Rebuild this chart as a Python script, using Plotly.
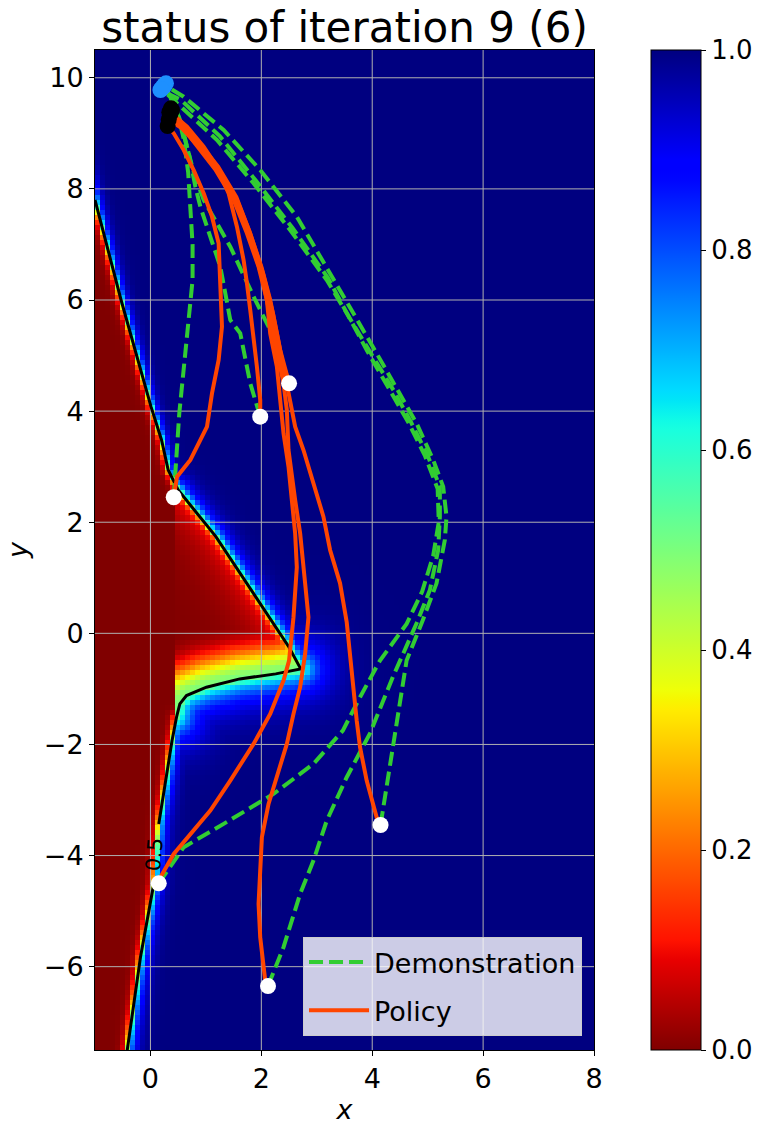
import numpy as np
import plotly.graph_objects as go

# ---- boundary of the 0.5 level, top-left -> bottom-left
bound_x = [-1.5, -1.0, -0.53, 0.01, 0.2, 0.32, 0.41, 0.5, 1.18, 1.9, 2.5, 2.71,
           2.26, 1.61, 1.01, 0.65, 0.53, 0.47, 0.39, 0.15, 0.06, -0.18, -0.42, -0.6]
bound_y = [9.7, 7.8, 6.0, 4.08, 3.48, 2.94, 2.76, 2.58, 1.74, 0.65, -0.25, -0.64,
           -0.73, -0.82, -0.97, -1.12, -1.27, -1.51, -1.93, -3.43, -4.51, -5.83, -7.51, -8.5]

# ---- demonstrations (green dashed)
demo_x = [
    [0.42, 0.46, 0.52, 0.61, 0.7, 0.76, 0.76, 0.73, 0.68, 0.6, 0.48, 0.3, 0.25],
    [1.98, 1.8, 1.62, 1.44, 1.26, 1.05, 0.9, 0.81, 0.7, 0.55, 0.35, 0.22],
    [2.5, 2.28, 2.13, 1.89, 1.44, 0.96, 0.78, 0.62, 0.45, 0.28],
    [4.15, 4.25, 4.44, 4.62, 4.91, 5.16, 5.31, 5.34, 5.28, 5.1, 4.8, 4.5, 4.08, 3.66,
     3.24, 2.64, 1.98, 1.32, 0.6, 0.25],
    [0.15, 0.6, 1.32, 2.22, 2.94, 3.47, 3.78, 4.14, 4.62, 4.9, 5.1, 5.2, 5.18, 4.95,
     4.65, 4.3, 3.9, 3.2, 2.56, 1.9, 1.25, 0.55, 0.18],
    [2.12, 2.4, 2.7, 2.94, 3.18, 3.54, 3.96, 4.37, 4.8, 5.04, 5.19, 5.22, 5.22, 5.0,
     4.7, 4.4, 4.0, 3.18, 2.52, 1.86, 1.2, 0.48, 0.2],
]
demo_y = [
    [2.45, 3.06, 3.96, 4.86, 5.76, 6.36, 7.0, 7.62, 8.3, 8.9, 9.4, 9.78, 9.85],
    [3.9, 4.5, 5.4, 5.64, 6.6, 7.2, 7.68, 8.04, 8.6, 9.2, 9.7, 9.83],
    [4.5, 5.22, 5.52, 6.0, 6.96, 7.8, 8.3, 8.9, 9.4, 9.9],
    [-3.45, -2.8, -1.57, -0.49, 0.23, 0.9, 1.68, 2.1, 2.64, 3.12, 3.78, 4.32, 5.04, 5.76,
     6.48, 7.5, 8.34, 9.06, 9.66, 9.87],
    [-4.5, -3.85, -3.43, -2.89, -2.35, -1.75, -1.15, -0.49, 0.17, 0.75, 1.4, 2.0, 2.6, 3.2,
     3.8, 4.4, 5.1, 6.4, 7.3, 8.15, 8.95, 9.6, 9.78],
    [-6.35, -5.65, -4.69, -4.09, -3.37, -2.59, -1.8, -0.79, 0.18, 0.78, 1.5, 2.1, 2.64, 3.2,
     3.8, 4.35, 5.0, 6.36, 7.26, 8.1, 8.88, 9.54, 9.8],
]

# ---- policy rollouts (orange)
policy_x = [
    [0.42, 0.48, 0.72, 1.02, 1.11, 1.23, 1.29, 1.27, 1.26, 1.23, 1.11, 0.96, 0.78, 0.6, 0.42, 0.31],
    [1.98, 1.98, 1.92, 1.86, 1.8, 1.74, 1.68, 1.56, 1.41, 1.2, 0.96, 0.66, 0.45, 0.36],
    [2.5, 2.4, 2.34, 2.21, 2.03, 1.8, 1.56, 1.2, 0.84, 0.54, 0.39],
    [4.15, 4.08, 3.9, 3.78, 3.72, 3.66, 3.6, 3.54, 3.42, 3.24, 3.12, 2.94, 2.76, 2.61, 2.52,
     2.4, 2.28, 2.16, 2.0, 1.78, 1.55, 1.22, 0.86, 0.56, 0.34],
    [0.15, 0.18, 0.42, 0.72, 1.08, 1.44, 1.86, 2.16, 2.4, 2.5, 2.58, 2.64, 2.61, 2.55, 2.49,
     2.4, 2.34, 2.28, 2.16, 2.1, 1.95, 1.74, 1.5, 1.17, 0.82, 0.55, 0.37],
    [2.12, 2.07, 1.98, 1.95, 1.98, 2.01, 2.13, 2.28, 2.46, 2.58, 2.7, 2.79, 2.85, 2.79, 2.7,
     2.61, 2.55, 2.49, 2.46, 2.4, 2.28, 2.16, 2.02, 1.8, 1.58, 1.24, 0.88, 0.58, 0.33],
]
policy_y = [
    [2.45, 2.82, 3.12, 3.72, 4.32, 4.92, 5.52, 6.0, 6.42, 7.02, 7.5, 7.92, 8.34, 8.7, 9.0, 9.13],
    [3.9, 4.2, 4.8, 5.4, 5.82, 6.3, 6.72, 7.32, 7.92, 8.4, 8.76, 9.12, 9.3, 9.35],
    [4.5, 4.9, 5.1, 5.76, 6.48, 7.2, 7.8, 8.4, 8.83, 9.12, 9.42],
    [-3.45, -3.31, -2.65, -2.05, -1.57, -0.97, -0.36, 0.2, 0.9, 1.5, 2.1, 2.7, 3.3, 3.72, 4.2,
     4.8, 5.4, 6.0, 6.6, 7.25, 7.85, 8.4, 8.85, 9.18, 9.38],
    [-4.5, -4.39, -3.97, -3.61, -3.19, -2.65, -1.99, -1.45, -0.85, -0.49, 0.29, 1.19, 1.8,
     2.4, 3.0, 3.6, 4.2, 4.8, 5.4, 6.0, 6.6, 7.2, 7.8, 8.35, 8.8, 9.15, 9.45],
    [-6.35, -6.25, -5.47, -4.87, -4.27, -3.67, -3.07, -2.59, -1.99, -1.45, -0.97, -0.37, 0.29,
     0.9, 1.8, 2.4, 2.88, 3.3, 4.02, 4.5, 5.1, 5.7, 6.4, 7.1, 7.7, 8.3, 8.75, 9.08, 9.25],
]

x_ticks = [0, 2, 4, 6, 8]
y_ticks = [-6, -4, -2, 0, 2, 4, 6, 8, 10]
cbar_ticks = [0.0, 0.2, 0.4, 0.6, 0.8, 1.0]


# ---- matplotlib jet, reversed
def jet(t):
    r = np.interp(t, [0, 0.35, 0.66, 0.89, 1], [0, 0, 1, 1, 0.5])
    g = np.interp(t, [0, 0.125, 0.375, 0.64, 0.91, 1], [0, 0, 1, 1, 0, 0])
    b = np.interp(t, [0, 0.11, 0.34, 0.65, 1], [0.5, 1, 1, 0, 0])
    return 'rgb(%d,%d,%d)' % (round(r * 255), round(g * 255), round(b * 255))


jet_r = [[v, jet(1 - v)] for v in np.linspace(0, 1, 101)]


# ---- field on a 100 x 200 grid, shaped by the boundary above
def seg_dist(X, Y, x0, y0, x1, y1):
    dx, dy = x1 - x0, y1 - y0
    t = np.clip(((X - x0) * dx + (Y - y0) * dy) / (dx * dx + dy * dy), 0, 1)
    return np.hypot(X - x0 - t * dx, Y - y0 - t * dy)


def group_dist(X, Y, i0, i1):
    return np.min([seg_dist(X, Y, bound_x[i], bound_y[i], bound_x[i + 1], bound_y[i + 1])
                   for i in range(i0, i1)], axis=0)


def inside_poly(X, Y, px, py):
    ins = np.zeros(X.shape, dtype=bool)
    j = len(px) - 1
    for i in range(len(px)):
        cross = ((py[i] > Y) != (py[j] > Y)) & \
                (X < (px[j] - px[i]) * (Y - py[i]) / (py[j] - py[i] + 1e-12) + px[i])
        ins ^= cross
        j = i
    return ins


xc = -1 + 0.09 * (np.arange(100) + 0.5)
yc = -7.5 + 0.09 * (np.arange(200) + 0.5)
X, Y = np.meshgrid(xc, yc)

d_up = group_dist(X, Y, 0, 7)
d_hyp = group_dist(X, Y, 7, 11)
d_low = group_dist(X, Y, 11, 17)
d_ll = group_dist(X, Y, 17, len(bound_x) - 1)
inside = inside_poly(X, Y, bound_x + [-2.0, -2.0], bound_y + [-8.5, 9.7])
right = X >= 0.44

v_out = 1 - 0.5 * np.max([np.exp(-d_up / 0.07), np.exp(-d_hyp / 0.13),
                          np.exp(-d_low / 0.3), np.exp(-d_ll / 0.1)], axis=0)
v_in = np.max([0.5 * np.exp(-d_up / 0.045),
               0.5 * np.exp(-d_ll / 0.05),
               (0.38 * np.exp(-d_hyp / 0.04) + 0.12 * np.exp(-d_hyp / 0.35)) * right,
               0.5 * np.exp(-(d_low / 0.5) ** 2) * right], axis=0)
field = np.where(inside, v_in, v_out)

fig = go.Figure()
fig.add_trace(go.Heatmap(
    x=xc, y=yc, z=field, zmin=0, zmax=1, colorscale=jet_r, hoverinfo='skip',
    colorbar=dict(x=1.114, xanchor='left', y=0.5, yanchor='middle', len=1,
                  thickness=50, xpad=0, ypad=0, outlinecolor='black', outlinewidth=1,
                  ticks='outside', ticklen=5, tickcolor='black',
                  tickvals=cbar_ticks, tickformat='.1f', tickfont=dict(size=26)),
))

# grid drawn over the heatmap, under the trajectories
gx, gy = [], []
for t in x_ticks[:-1]:
    gx += [t, t, None]
    gy += [-7.5, 10.5, None]
for t in y_ticks:
    gx += [-1, 8, None]
    gy += [t, t, None]
fig.add_trace(go.Scatter(x=gx, y=gy, mode='lines', line=dict(color='#b0b0b0', width=1),
                         hoverinfo='skip', showlegend=False))

# 0.5 contour, with a gap for its label
cut = 20
fig.add_trace(go.Scatter(x=bound_x[1:cut], y=bound_y[1:cut], mode='lines',
                         line=dict(color='black', width=3), showlegend=False, hoverinfo='skip'))
fig.add_trace(go.Scatter(x=bound_x[cut:], y=bound_y[cut:], mode='lines',
                         line=dict(color='black', width=3), showlegend=False, hoverinfo='skip'))

for i, (xs, ys) in enumerate(zip(demo_x, demo_y)):
    fig.add_trace(go.Scatter(x=xs, y=ys, mode='lines', name='Demonstration',
                             legendgroup='demo', showlegend=(i == 0),
                             line=dict(color='limegreen', width=4, dash='14px,6px')))
for i, (xs, ys) in enumerate(zip(policy_x, policy_y)):
    fig.add_trace(go.Scatter(x=xs, y=ys, mode='lines', name='Policy',
                             legendgroup='policy', showlegend=(i == 0),
                             line=dict(color='orangered', width=4)))

fig.add_trace(go.Scatter(x=[p[0] for p in demo_x], y=[p[0] for p in demo_y], mode='markers',
                         marker=dict(color='white', size=16), showlegend=False))
fig.add_trace(go.Scatter(x=[p[-1] for p in demo_x], y=[p[-1] for p in demo_y], mode='markers',
                         marker=dict(color='dodgerblue', size=16), showlegend=False))
fig.add_trace(go.Scatter(x=[p[-1] for p in policy_x], y=[p[-1] for p in policy_y], mode='markers',
                         marker=dict(color='black', size=16), showlegend=False))

fig.add_annotation(x=0.08, y=-3.98, text='0.5', showarrow=False, textangle=-85,
                   font=dict(size=21, color='black'))

fig.update_layout(
    width=766, height=1132,
    margin=dict(l=95, r=170, t=50, b=82),
    font=dict(family='DejaVu Sans', color='black'),
    plot_bgcolor='white', paper_bgcolor='white',
    title=dict(text='status of iteration 9 (6)', x=0.5, xref='paper', y=0.976, yref='container',
               yanchor='middle', font=dict(size=42)),
    xaxis=dict(range=[-1, 8], tickvals=x_ticks, ticks='outside', ticklen=5, tickcolor='black',
               showgrid=False, zeroline=False, showline=True, mirror=True, linecolor='black',
               linewidth=1, layer='above traces', tickfont=dict(size=27),
               title=dict(text='<i>x</i>', font=dict(size=27), standoff=6)),
    yaxis=dict(range=[-7.5, 10.5], tickvals=y_ticks, ticks='outside', ticklen=5, tickcolor='black',
               showgrid=False, zeroline=False, showline=True, mirror=True, linecolor='black',
               linewidth=1, layer='above traces', tickfont=dict(size=27),
               title=dict(text='<i>y</i>', font=dict(size=27), standoff=8)),
    legend=dict(x=0.976, xanchor='right', y=0.014, yanchor='bottom',
                bgcolor='rgba(255,255,255,0.8)', bordercolor='#cccccc', borderwidth=1,
                font=dict(size=27), itemwidth=60),
)

fig.write_html("out.html", config={'displayModeBar': False},
               post_script="document.body.style.margin='0';")
